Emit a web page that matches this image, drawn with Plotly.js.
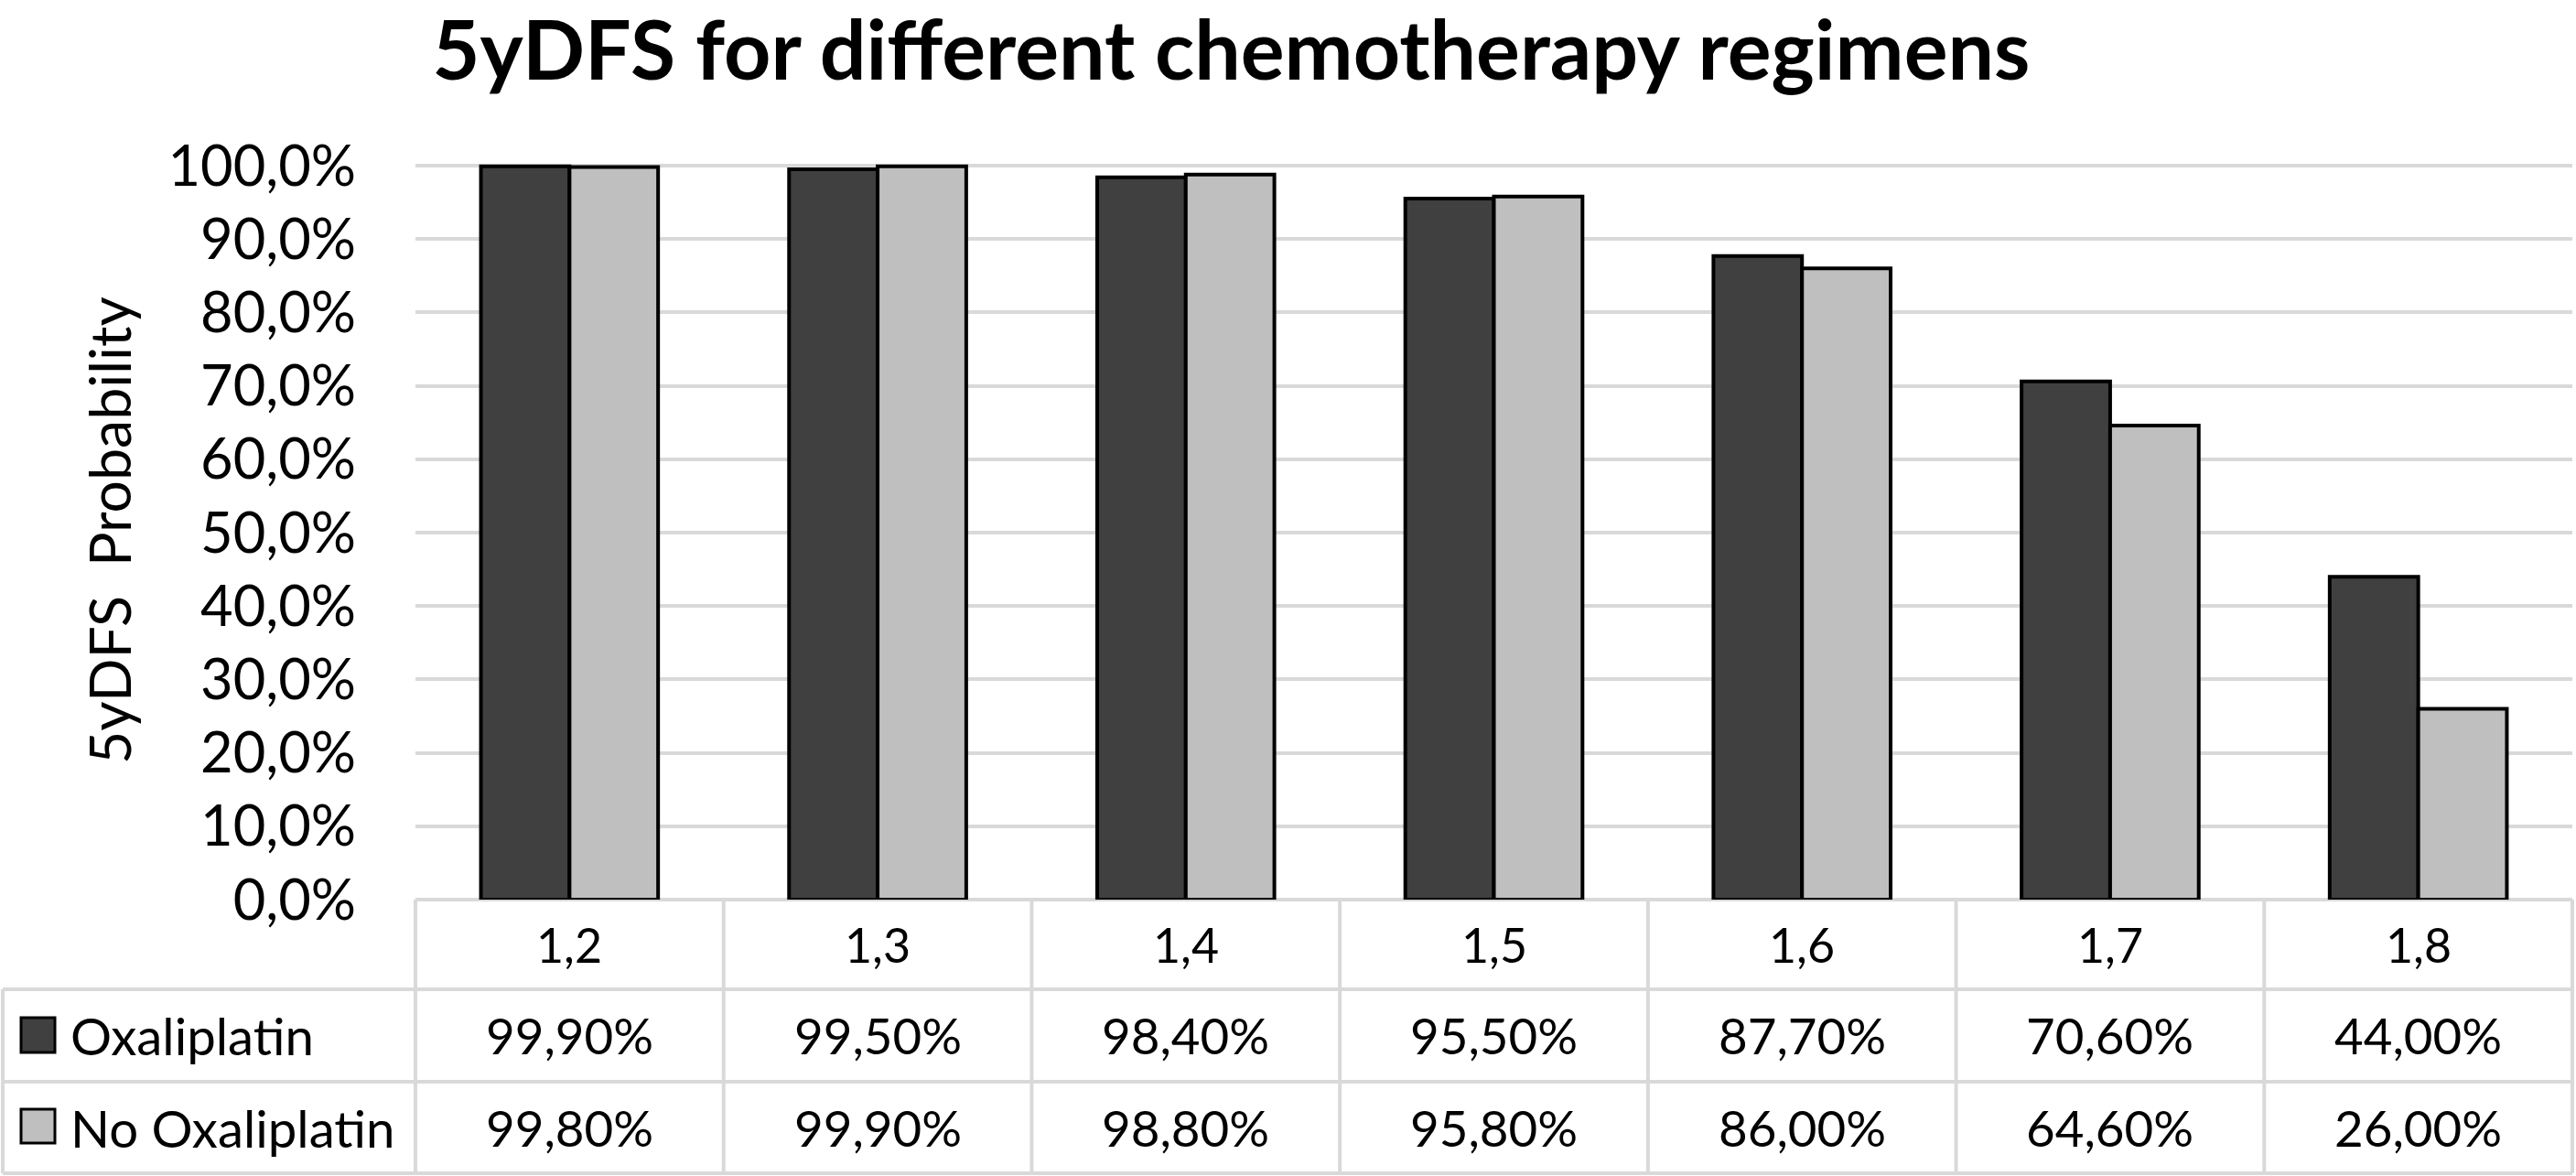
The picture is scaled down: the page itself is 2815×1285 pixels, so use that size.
<!DOCTYPE html>
<html>
<head>
<meta charset="utf-8">
<script src="https://cdn.plot.ly/plotly-3.0.1.min.js"></script>
<style>
  html, body { margin: 0; padding: 0; background: #ffffff; }
  #chart { width: 2815px; height: 1285px; }
</style>
</head>
<body>
<div id="chart"></div>
<script>
// ---------------- data ----------------
const chartTitle = "5yDFS for different chemotherapy regimens";
const yAxisTitle = "5yDFS  Probability";
const categories = ["1,2", "1,3", "1,4", "1,5", "1,6", "1,7", "1,8"];
const seriesNames = ["Oxaliplatin", "No Oxaliplatin"];
const oxaliplatin = [99.9, 99.5, 98.4, 95.5, 87.7, 70.6, 44.0];
const noOxaliplatin = [99.8, 99.9, 98.8, 95.8, 86.0, 64.6, 26.0];
const yTickValues = [0, 10, 20, 30, 40, 50, 60, 70, 80, 90, 100];
const yTickLabels = ["0,0%", "10,0%", "20,0%", "30,0%", "40,0%", "50,0%",
                     "60,0%", "70,0%", "80,0%", "90,0%", "100,0%"];

// ---------------- layout geometry (pixels) ----------------
const W = 2815, H = 1285;
const M = { l: 454, r: 4, t: 173, b: 302 };
const plotW = W - M.l - M.r, plotH = H - M.t - M.b;
const paperX = px => (px - M.l) / plotW;
const paperY = py => (H - M.b - py) / plotH;

const FONT = "Lato, 'Open Sans', sans-serif";
const TEXT = "#000000";
const GRID = "#d9d9d9";
const DARK = "#404040";
const LIGHT = "#bfbfbf";

// fit font sizes to reference text widths
const cv = document.createElement("canvas").getContext("2d");
function fit(text, weight, target) {
  cv.font = weight + " 100px Lato";
  const w = cv.measureText(text).width;
  return w > 0 ? 100 * target / w : 60;
}
const nb = s => s.replace(/ /g, "\u00a0");
const titleSize = fit(chartTitle, "bold", 1750);
const tickSize = fit("80,0%", "normal", 170);
const dataSize = fit("99,90%", "normal", 183);
const catSize = fit("1,8", "normal", 72);
const legSize = fit("Oxaliplatin", "normal", 266);
const yTitleSize = fit(nb(yAxisTitle), "normal", 511);

const fmt = v => v.toFixed(2).replace(".", ",") + "%";

// ---------------- traces ----------------
const traces = [
  { type: "bar", name: seriesNames[0], x: categories, y: oxaliplatin,
    marker: { color: DARK, line: { color: "#000000", width: 4 } }, hoverinfo: "x+y" },
  { type: "bar", name: seriesNames[1], x: categories, y: noOxaliplatin,
    marker: { color: LIGHT, line: { color: "#000000", width: 4 } }, hoverinfo: "x+y" }
];

// ---------------- table (shapes + annotations) ----------------
const shapes = [];
const annotations = [];
const rowTop = 983, rowLines = [1081, 1182, 1282];
const rowCenters = [1032, 1131, 1232];
const line = { color: GRID, width: 4 };

rowLines.forEach(py => shapes.push({
  type: "line", xref: "x domain", yref: "paper",
  x0: paperX(3), x1: 1, y0: paperY(py), y1: paperY(py), line
}));
for (let k = 0; k <= categories.length; k++) {
  shapes.push({
    type: "line", xref: "x domain", yref: "paper",
    x0: k / categories.length, x1: k / categories.length,
    y0: paperY(rowTop), y1: paperY(rowLines[2]), line
  });
}
shapes.push({
  type: "line", xref: "x domain", yref: "paper",
  x0: paperX(3), x1: paperX(3), y0: paperY(rowLines[0]), y1: paperY(rowLines[2]), line
});

// legend keys
[[DARK, 1112, 1150], [LIGHT, 1212, 1249]].forEach(([c, y0, y1]) => shapes.push({
  type: "rect", xref: "paper", yref: "paper",
  x0: paperX(23), x1: paperX(60), y0: paperY(y1), y1: paperY(y0),
  fillcolor: c, line: { color: "#000000", width: 3 }
}));

categories.forEach((c, i) => {
  annotations.push({ xref: "x", yref: "paper", x: c, y: paperY(rowCenters[0]),
    text: c, showarrow: false, xanchor: "center", yanchor: "middle",
    font: { family: FONT, size: catSize, color: TEXT } });
  annotations.push({ xref: "x", yref: "paper", x: c, y: paperY(rowCenters[1]),
    text: fmt(oxaliplatin[i]), showarrow: false, xanchor: "center", yanchor: "middle",
    font: { family: FONT, size: dataSize, color: TEXT } });
  annotations.push({ xref: "x", yref: "paper", x: c, y: paperY(rowCenters[2]),
    text: fmt(noOxaliplatin[i]), showarrow: false, xanchor: "center", yanchor: "middle",
    font: { family: FONT, size: dataSize, color: TEXT } });
});
seriesNames.forEach((s, j) => annotations.push({
  xref: "paper", yref: "paper", x: paperX(75), y: paperY(rowCenters[j + 1]),
  text: s, showarrow: false, xanchor: "left", yanchor: "middle",
  font: { family: FONT, size: legSize, color: TEXT }
}));

// y-axis title
annotations.push({
  xref: "paper", yref: "paper", x: paperX(118), y: paperY(580),
  text: nb(yAxisTitle), textangle: -90, showarrow: false,
  xanchor: "center", yanchor: "middle",
  font: { family: FONT, size: yTitleSize, color: TEXT }
});

const layout = {
  width: W, height: H,
  margin: M,
  paper_bgcolor: "#ffffff", plot_bgcolor: "#ffffff",
  showlegend: false,
  barmode: "group", bargap: 0.425, bargroupgap: 0,
  title: {
    text: chartTitle, xref: "paper", x: paperX(1345.5), xanchor: "center",
    yref: "container", y: 1 - 56 / H, yanchor: "middle",
    font: { family: FONT, size: titleSize, color: TEXT, weight: "bold" }
  },
  xaxis: {
    type: "category", range: [-0.5, categories.length - 0.5],
    showticklabels: false, showgrid: false, zeroline: false, showline: false, ticks: ""
  },
  yaxis: {
    range: [0, 101], tickmode: "array", tickvals: yTickValues, ticktext: yTickLabels,
    showgrid: true, gridcolor: GRID, gridwidth: 4,
    zeroline: true, zerolinecolor: GRID, zerolinewidth: 4,
    showline: false, ticks: "", ticklabelstandoff: 64,
    tickfont: { family: FONT, size: tickSize, color: TEXT }
  },
  shapes, annotations
};

Plotly.newPlot("chart", traces, layout, { displayModeBar: false, staticPlot: true });
</script>
</body>
</html>
